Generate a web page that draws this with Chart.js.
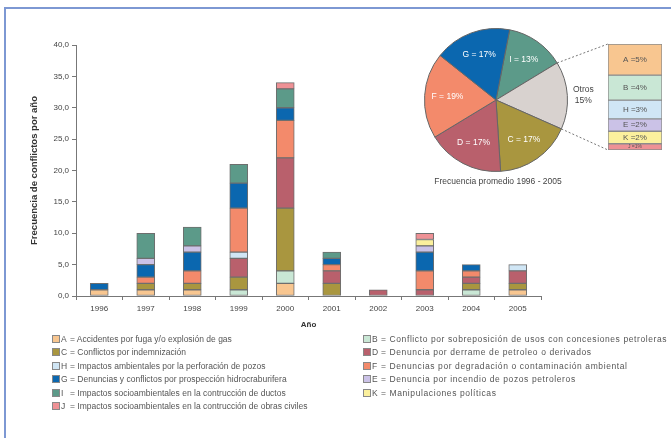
<!DOCTYPE html>
<html>
<head>
<meta charset="utf-8">
<script src="https://cdn.jsdelivr.net/npm/chart.js@4"></script>
<style>
  html, body { margin:0; padding:0; background:#fff; width:671px; height:438px; overflow:hidden; font-family:"Liberation Sans", Arial, sans-serif; }
  #marco { position:absolute; left:4px; top:7px; width:720px; height:520px; border:2px solid #7d98d3; }
  canvas { position:absolute; }
  #barras { left:0; top:0; }
  #torta { left:410px; top:20px; }
  #otros { left:600px; top:36px; }
  #subtitulo { position:absolute; left:420px; top:176px; width:156px; text-align:center; font-size:8.5px; color:#444; }
  #leyenda { position:absolute; left:52px; top:333px; display:grid; grid-template-columns:311px 340px; font-size:8.5px; color:#555; line-height:13.4px; white-space:nowrap; }
  #leyenda div:nth-child(even) { letter-spacing:0.6px; }
  .sw { display:inline-block; width:6px; height:6px; border:1px solid #888; margin-right:1px; vertical-align:-1px; }
  .le { display:inline-block; width:9px; letter-spacing:0; }
</style>
</head>
<body>
<div id="marco"></div>
<canvas id="barras" width="560" height="335"></canvas>
<canvas id="torta" width="261" height="175"></canvas>
<canvas id="otros" width="70" height="120"></canvas>
<div id="subtitulo">Frecuencia promedio 1996 - 2005</div>
<div id="leyenda"></div>
<script>
// Datos: conflictos por año y tipo
const anios = ['1996', '1997', '1998', '1999', '2000', '2001', '2002', '2003', '2004', '2005'];
const codigos = ['A', 'B', 'C', 'D', 'H', 'F', 'G', 'E', 'I', 'K', 'J'];
const serieA = [1, 1, 1, 0, 2, 0, 0, 0, 0, 1];
const serieB = [0, 0, 0, 1, 2, 0, 0, 0, 1, 0];
const serieC = [0, 1, 1, 2, 10, 2, 0, 0, 1, 1];
const serieD = [0, 0, 0, 3, 8, 2, 1, 1, 1, 2];
const serieH = [0, 0, 0, 1, 0, 0, 0, 0, 0, 1];
const serieF = [0, 1, 2, 7, 6, 1, 0, 3, 1, 0];
const serieG = [1, 2, 3, 4, 2, 1, 0, 3, 1, 0];
const serieE = [0, 1, 1, 0, 0, 0, 0, 1, 0, 0];
const serieI = [0, 4, 3, 3, 3, 1, 0, 0, 0, 0];
const serieK = [0, 0, 0, 0, 0, 0, 0, 1, 0, 0];
const serieJ = [0, 0, 0, 0, 1, 0, 0, 1, 0, 0];
const descripciones = [
    'Accidentes por fuga y/o explosión de gas',
    'Conflicto por sobreposición de usos con concesiones petroleras',
    'Conflictos por indemnización',
    'Denuncia por derrame de petroleo o derivados',
    'Impactos ambientales por la perforación de pozos',
    'Denuncias por degradación o contaminación ambiental',
    'Denuncias y conflictos por prospección hidrocraburifera',
    'Denuncia por incendio de pozos petroleros',
    'Impactos socioambientales en la contrucción de ductos',
    'Manipulaciones políticas',
    'Impactos socioambientales en la contrucción de obras civiles'
];

// Torta: frecuencia promedio 1996 - 2005
const tortaEtiquetas = ['I', 'Otros', 'C', 'D', 'F', 'G'];
const tortaValores = [13, 15, 17, 17, 19, 17];

// Desglose de "Otros"
const otrosCodigos = ['A', 'B', 'H', 'E', 'K', 'J'];
const otrosValores = [5, 4, 3, 2, 2, 1];

const series = [serieA, serieB, serieC, serieD, serieH, serieF, serieG, serieE, serieI, serieK, serieJ];
const colores = {
    A: '#f8c690', B: '#c9e7d5', C: '#a9963f', D: '#b9606c', H: '#d0e6f5', F: '#f38a6b',
    G: '#0b67af', E: '#cbc2e7', I: '#5c9a89', K: '#fbf09d', J: '#ee9195', Otros: '#d8d2cf'
};

const barras = new Chart(document.getElementById('barras'), {
    type: 'bar',
    data: {
        labels: anios,
        datasets: codigos.map((c, i) => ({
            label: c,
            data: series[i].map(v => v === 0 ? null : v),
            backgroundColor: colores[c],
            borderColor: '#6e6e6e',
            borderWidth: 1,
            borderSkipped: false,
            barThickness: 18
        }))
    },
    options: {
        responsive: false,
        animation: false,
        layout: { padding: { left: 29, top: 45, right: 19, bottom: 0 } },
        plugins: { legend: { display: false }, tooltip: { enabled: false } },
        scales: {
            x: {
                stacked: true,
                afterFit: s => { s.height = 39; },
                grid: { drawOnChartArea: false, tickLength: 4, color: '#777' },
                border: { color: '#777' },
                ticks: { font: { size: 8 }, color: '#444', padding: 4 },
                title: { display: true, text: 'Año', font: { size: 8, weight: 'bold' }, color: '#333', padding: { top: 0, bottom: 5 } }
            },
            y: {
                stacked: true,
                min: 0,
                max: 40,
                afterFit: s => { s.width = 47; },
                grid: { drawOnChartArea: false, tickLength: 4, color: '#777' },
                border: { color: '#777' },
                ticks: { stepSize: 5, font: { size: 8 }, color: '#444', padding: 3, callback: v => v.toFixed(1).replace('.', ',') },
                title: { display: true, text: 'Frecuencia de conflictos por año', font: { size: 9.5, weight: 'bold' }, color: '#333', padding: { top: 0, bottom: 0 } }
            }
        }
    }
});

// Leyenda en dos columnas
const leyenda = document.getElementById('leyenda');
barras.data.datasets.forEach((ds, i) => {
    const item = document.createElement('div');
    item.innerHTML = '<span class="sw" style="background:' + ds.backgroundColor + '"></span><span class="le">' + ds.label + '</span>= ' + descripciones[i];
    leyenda.appendChild(item);
});

// Caja con el desglose de Otros
const etiquetasCaja = {
    id: 'etiquetasCaja',
    afterDatasetsDraw(chart) {
        const ctx = chart.ctx;
        ctx.save();
        ctx.textAlign = 'center';
        ctx.textBaseline = 'middle';
        ctx.fillStyle = '#555';
        chart.data.datasets.forEach((ds, i) => {
            const el = chart.getDatasetMeta(i).data[0];
            const h = Math.abs(el.base - el.y);
            ctx.font = (h < 8 ? 5 : 8) + 'px "Liberation Sans", Arial';
            ctx.fillText(ds.label + ' =' + ds.data[0] + '%', el.x, (el.y + el.base) / 2);
        });
        ctx.restore();
    }
};

const cajaOtros = new Chart(document.getElementById('otros'), {
    type: 'bar',
    data: {
        labels: ['Otros'],
        datasets: otrosCodigos.map((c, i) => ({
            label: c,
            data: [otrosValores[i]],
            backgroundColor: colores[c],
            borderColor: '#8c8c8c',
            borderWidth: 1,
            borderSkipped: false,
            barPercentage: 1,
            categoryPercentage: 1
        }))
    },
    options: {
        responsive: false,
        animation: false,
        layout: { padding: { left: 8, right: 8, top: 8, bottom: 6 } },
        plugins: { legend: { display: false }, tooltip: { enabled: false } },
        scales: {
            x: { display: false, stacked: true },
            y: { display: false, stacked: true, min: 0, max: otrosValores.reduce((a, b) => a + b, 0), reverse: true }
        }
    },
    plugins: [etiquetasCaja]
});

// Etiquetas de la torta y lineas hacia la caja
const etiquetasTorta = {
    id: 'etiquetasTorta',
    afterDatasetsDraw(chart) {
        const ctx = chart.ctx;
        const meta = chart.getDatasetMeta(0);
        ctx.save();
        ctx.textAlign = 'center';
        ctx.textBaseline = 'middle';
        meta.data.forEach((arc, i) => {
            const et = chart.data.labels[i];
            const val = chart.data.datasets[0].data[i];
            const a = (arc.startAngle + arc.endAngle) / 2;
            if (et === 'Otros') {
                const r = arc.outerRadius + 16;
                const x = arc.x + r * Math.cos(a), y = arc.y + r * Math.sin(a);
                ctx.fillStyle = '#444';
                ctx.font = '8.5px "Liberation Sans", Arial';
                ctx.fillText('Otros', x, y - 5);
                ctx.fillText(val + '%', x, y + 6);

                // lineas punteadas a la caja de desglose
                const cv = document.getElementById('otros');
                const dx = cv.offsetLeft - chart.canvas.offsetLeft;
                const dy = cv.offsetTop - chart.canvas.offsetTop;
                const primero = cajaOtros.getDatasetMeta(0).data[0];
                const ultimo = cajaOtros.getDatasetMeta(otrosCodigos.length - 1).data[0];
                const bx = primero.x - primero.width / 2 + dx;
                const arriba = Math.min(primero.y, primero.base) + dy;
                const abajo = Math.max(ultimo.y, ultimo.base) + dy;
                ctx.strokeStyle = '#777';
                ctx.lineWidth = 1;
                ctx.setLineDash([2, 2]);
                ctx.beginPath();
                ctx.moveTo(arc.x + arc.outerRadius * Math.cos(arc.startAngle), arc.y + arc.outerRadius * Math.sin(arc.startAngle));
                ctx.lineTo(bx, arriba);
                ctx.moveTo(arc.x + arc.outerRadius * Math.cos(arc.endAngle), arc.y + arc.outerRadius * Math.sin(arc.endAngle));
                ctx.lineTo(bx, abajo);
                ctx.stroke();
                ctx.setLineDash([]);
            } else {
                const r = arc.outerRadius * 0.68;
                ctx.fillStyle = '#fff';
                ctx.font = '8.5px "Liberation Sans", Arial';
                ctx.fillText(et + ' = ' + val + '%', arc.x + r * Math.cos(a), arc.y + r * Math.sin(a));
            }
        });
        ctx.restore();
    }
};

new Chart(document.getElementById('torta'), {
    type: 'pie',
    data: {
        labels: tortaEtiquetas,
        datasets: [{
            data: tortaValores,
            backgroundColor: tortaEtiquetas.map(e => colores[e]),
            borderColor: '#666',
            borderWidth: 1
        }]
    },
    options: {
        responsive: false,
        animation: false,
        rotation: 11,
        layout: { padding: { left: 14, top: 8, right: 103, bottom: 23 } },
        plugins: { legend: { display: false }, tooltip: { enabled: false } }
    },
    plugins: [etiquetasTorta]
});
</script>
</body>
</html>
